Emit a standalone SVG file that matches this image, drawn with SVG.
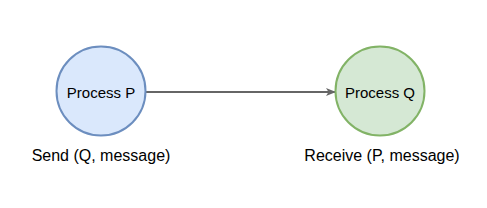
<svg xmlns="http://www.w3.org/2000/svg" width="487" height="208" viewBox="0 0 487 208">
<style>
text{font-family:"Liberation Sans",Arial,sans-serif;fill:#000;text-anchor:middle}
.n{font-size:15px}
.l{font-size:16px}
</style>
<defs>
<marker id="ah" viewBox="0 0 10 10" refX="9" refY="5" markerWidth="10" markerHeight="10" markerUnits="userSpaceOnUse" orient="auto">
<path d="M0,1 L10,5 L0,9 L2.5,5 Z" fill="#666666"/>
</marker>
</defs>
<rect width="487" height="208" fill="#ffffff"/>
<g id="connectors">
<line x1="146" y1="92" x2="335" y2="92" stroke="#666666" stroke-width="2" marker-end="url(#ah)"/>
</g>
<g id="processP">
<circle cx="101" cy="91" r="44.5" fill="#dae8fc" stroke="#6c8ebf" stroke-width="2"/>
<text class="n" x="101" y="98">Process P</text>
</g>
<g id="processQ">
<circle cx="380" cy="91" r="44.5" fill="#d5e8d4" stroke="#82b366" stroke-width="2"/>
<text class="n" x="380" y="98">Process Q</text>
</g>
<g id="labelSend">
<text class="l" x="101" y="161">Send (Q, message)</text>
</g>
<g id="labelReceive">
<text class="l" x="382" y="161">Receive (P, message)</text>
</g>
</svg>
